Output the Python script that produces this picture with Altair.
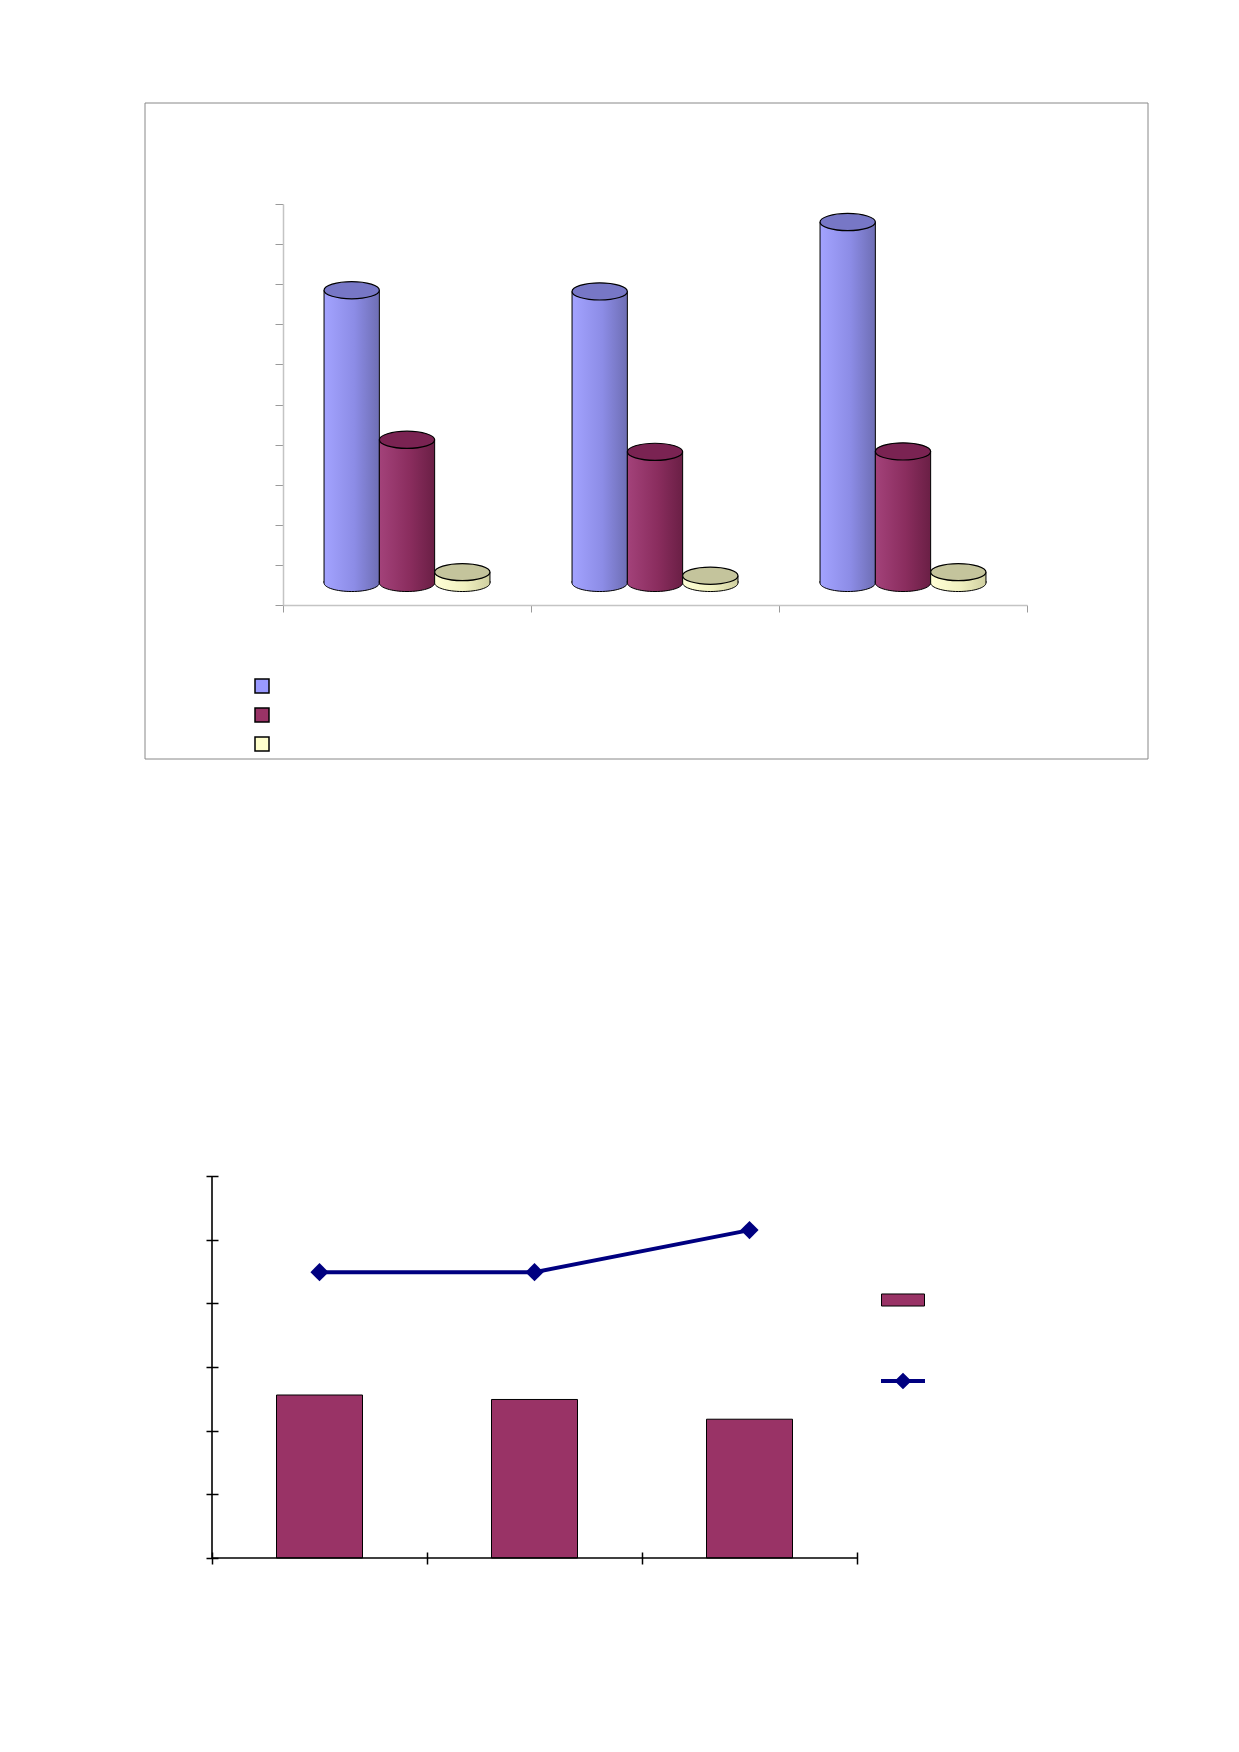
import altair as alt
import pandas as pd

# ---------------- data ----------------
categories = ["Group 1", "Group 2", "Group 3"]
series_names = ["Series A", "Series B", "Series C"]
series_a = [7.30, 7.27, 9.00]
series_b = [3.57, 3.27, 3.28]
series_c = [0.27, 0.18, 0.27]

bar_name = "Bars"
line_name = "Line"
bar_values = [2.56, 2.49, 2.18]
line_values = [4.49, 4.49, 5.15]

# ---------------- styles ----------------
side_colors = {
    "Series A": ["#a3a3ff", "#8c8ce6", "#6e6eb4"],
    "Series B": ["#a3427a", "#8a2d5e", "#6a1f45"],
    "Series C": ["#ffffd6", "#f0f0c0", "#cfcfa0"],
}
top_colors = {"Series A": "#7777c6", "Series B": "#7a2352", "Series C": "#c4c49c"}
legend_colors = ["#9999ff", "#993366", "#ffffcc"]

def grad(cols):
    return alt.LinearGradient(
        gradient="linear",
        stops=[alt.GradientStop(color=cols[0], offset=0),
               alt.GradientStop(color=cols[1], offset=0.55),
               alt.GradientStop(color=cols[2], offset=1)],
        x1=0, x2=1, y1=0, y2=0)

top_rows = []
for s, vals in zip(series_names, [series_a, series_b, series_c]):
    for c, v in zip(categories, vals):
        top_rows.append({"category": c, "series": s, "value": v})
top_df = pd.DataFrame(top_rows)

# top panel: framed box, plot region inside it
FW, FH = 1003, 656          # frame size
PX0, PX1 = 138, 882         # plot x range inside frame
PY0, PY1 = 101, 502         # plot y range inside frame (top, bottom)
ymin, ymax = -0.55, 9.45
CYL = 55.3
ellipse_path = "M-1,0A1,0.31,0,1,0,1,0A1,0.31,0,1,0,-1,0Z"
bottom_path = "M-1,-0.07L-1,0A1,0.31,0,0,0,1,0L1,-0.07"

x_top = alt.X("category:N", sort=categories,
              scale=alt.Scale(domain=categories, paddingInner=0, paddingOuter=0,
                              range=[PX0, PX1]),
              axis=alt.Axis(labels=False, title=None, tickBand="extent", tickSize=7,
                            offset=PY1 - FH,
                            domainColor="#c4c4c4", tickColor="#9a9a9a",
                            domainWidth=1.5, tickWidth=1))
xo_top = alt.XOffset("series:N", sort=series_names,
                     scale=alt.Scale(domain=series_names, paddingInner=0, paddingOuter=0.742))
y_top = alt.Y("value:Q",
              scale=alt.Scale(domain=[ymin, ymax], nice=False, zero=False,
                              range=[PY1, PY0]),
              axis=alt.Axis(values=[round(ymin + i, 2) for i in range(11)], labels=False,
                            title=None, grid=False, tickSize=8, offset=-PX0,
                            domainColor="#c4c4c4", tickColor="#9a9a9a",
                            domainWidth=1.5, tickWidth=1))

base_top = alt.Chart(top_df)
top_layers = []

frame = alt.Chart(pd.DataFrame({"f": [0]})).mark_rect(
    fill="transparent", stroke="#888888", strokeWidth=1).encode(
    x=alt.value(0), x2=alt.value("width"), y=alt.value(0), y2=alt.value("height"))
top_layers.append(frame)

for s in series_names:
    sub = base_top.transform_filter(alt.datum.series == s)
    g = grad(side_colors[s])
    body = sub.mark_bar(fill=g, stroke="black", strokeWidth=1).encode(
        x=x_top, xOffset=xo_top, y=y_top, y2=alt.datum(0))
    bottom = sub.mark_point(shape=bottom_path, size=CYL * CYL, filled=True, fill=g,
                            stroke="black", strokeWidth=1, opacity=1).encode(
        x=x_top, xOffset=xo_top, y=alt.datum(0))
    top = sub.mark_point(shape=ellipse_path, size=CYL * CYL, filled=True,
                         fill=top_colors[s], stroke="black", strokeWidth=1.2,
                         opacity=1).encode(x=x_top, xOffset=xo_top, y=y_top)
    top_layers += [body, bottom, top]

legend_layer = base_top.mark_square(opacity=0).encode(
    x=x_top, xOffset=xo_top, y=y_top,
    color=alt.Color("series:N", sort=series_names,
                    scale=alt.Scale(domain=series_names, range=legend_colors),
                    legend=alt.Legend(orient="none", legendX=109, legendY=575,
                                      title=None, labelExpr="''", symbolType="square",
                                      symbolSize=196, symbolStrokeColor="black",
                                      symbolStrokeWidth=1.5, symbolOpacity=1,
                                      rowPadding=9, padding=0, labelFontSize=1,
                                      labelOffset=0)))
top_layers.append(legend_layer)

top_chart = alt.layer(*top_layers).properties(width=FW, height=FH)

# ---------------- bottom chart ----------------
bot_df = pd.DataFrame({"category": categories, "bar": bar_values, "line": line_values,
                       "bar_name": [bar_name] * 3, "line_name": [line_name] * 3})
BX0 = 67                    # plot start inside panel
BW, BH = 645, 382

x_bot = alt.X("category:N", sort=categories,
              scale=alt.Scale(domain=categories, paddingInner=0, paddingOuter=0,
                              range=[BX0, BX0 + BW]),
              axis=alt.Axis(labels=False, title=None, tickBand="extent", tickSize=12,
                            offset=-6, domain=False, tickColor="black", tickWidth=1.5))
y_scale = alt.Scale(domain=[0, 6], nice=False)
y_axis = alt.Axis(values=list(range(7)), labels=False, title=None, grid=False, tickSize=12,
                  offset=-(BX0 + 6), domain=False, tickColor="black", tickWidth=1.5)

bb = alt.Chart(bot_df)

bars = bb.mark_bar(width=alt.RelativeBandSize(0.4), stroke="black", strokeWidth=1).encode(
    x=x_bot, y=alt.Y("bar:Q", scale=y_scale, axis=y_axis),
    color=alt.Color("bar_name:N", scale=alt.Scale(domain=[bar_name], range=["#993366"]),
                    legend=alt.Legend(orient="none", legendX=BX0 + 669, legendY=102,
                                      title=None, labelExpr="''",
                                      symbolType="M-1,-0.28L1,-0.28L1,0.28L-1,0.28Z",
                                      symbolSize=1849, symbolStrokeColor="black",
                                      symbolStrokeWidth=1, symbolOpacity=1, padding=0,
                                      labelFontSize=1, labelOffset=0)))
line = bb.mark_line(color="#000080", strokeWidth=4).encode(
    x=x_bot, y=alt.Y("line:Q", scale=y_scale, axis=y_axis))
diamond_line = ("M-1,-0.09L-0.29,-0.09L0,-0.38L0.29,-0.09L1,-0.09L1,0.09L0.29,0.09"
                "L0,0.38L-0.29,0.09L-1,0.09Z")
points = bb.mark_point(shape="diamond", filled=True, size=330, opacity=1).encode(
    x=x_bot, y=alt.Y("line:Q", scale=y_scale, axis=y_axis),
    color=alt.Color("line_name:N", scale=alt.Scale(domain=[line_name], range=["#000080"]),
                    legend=alt.Legend(orient="none", legendX=BX0 + 669, legendY=183,
                                      title=None, labelExpr="''", symbolType=diamond_line,
                                      symbolSize=1936, symbolStrokeWidth=0,
                                      symbolOpacity=1, padding=0, labelFontSize=1,
                                      labelOffset=0)))
y_dom = alt.Chart(pd.DataFrame({"f": [0]})).mark_rule(color="black", strokeWidth=1.6).encode(
    x=alt.value(BX0), y=alt.value(0), y2=alt.value("height"))
x_dom = alt.Chart(pd.DataFrame({"f": [0]})).mark_rule(color="black", strokeWidth=1.6).encode(
    x=alt.value(BX0), x2=alt.value("width"), y=alt.value("height"))

bottom_chart = alt.layer(bars, line, points, y_dom, x_dom).resolve_scale(
    color="independent").properties(width=BX0 + BW, height=BH)

chart = alt.vconcat(top_chart, bottom_chart, spacing=415).properties(
    padding={"left": 136, "top": 94, "right": 10, "bottom": 10},
    background="white").configure_view(stroke=None)

chart.save("out.html", embed_options={"renderer": "svg", "actions": False})
